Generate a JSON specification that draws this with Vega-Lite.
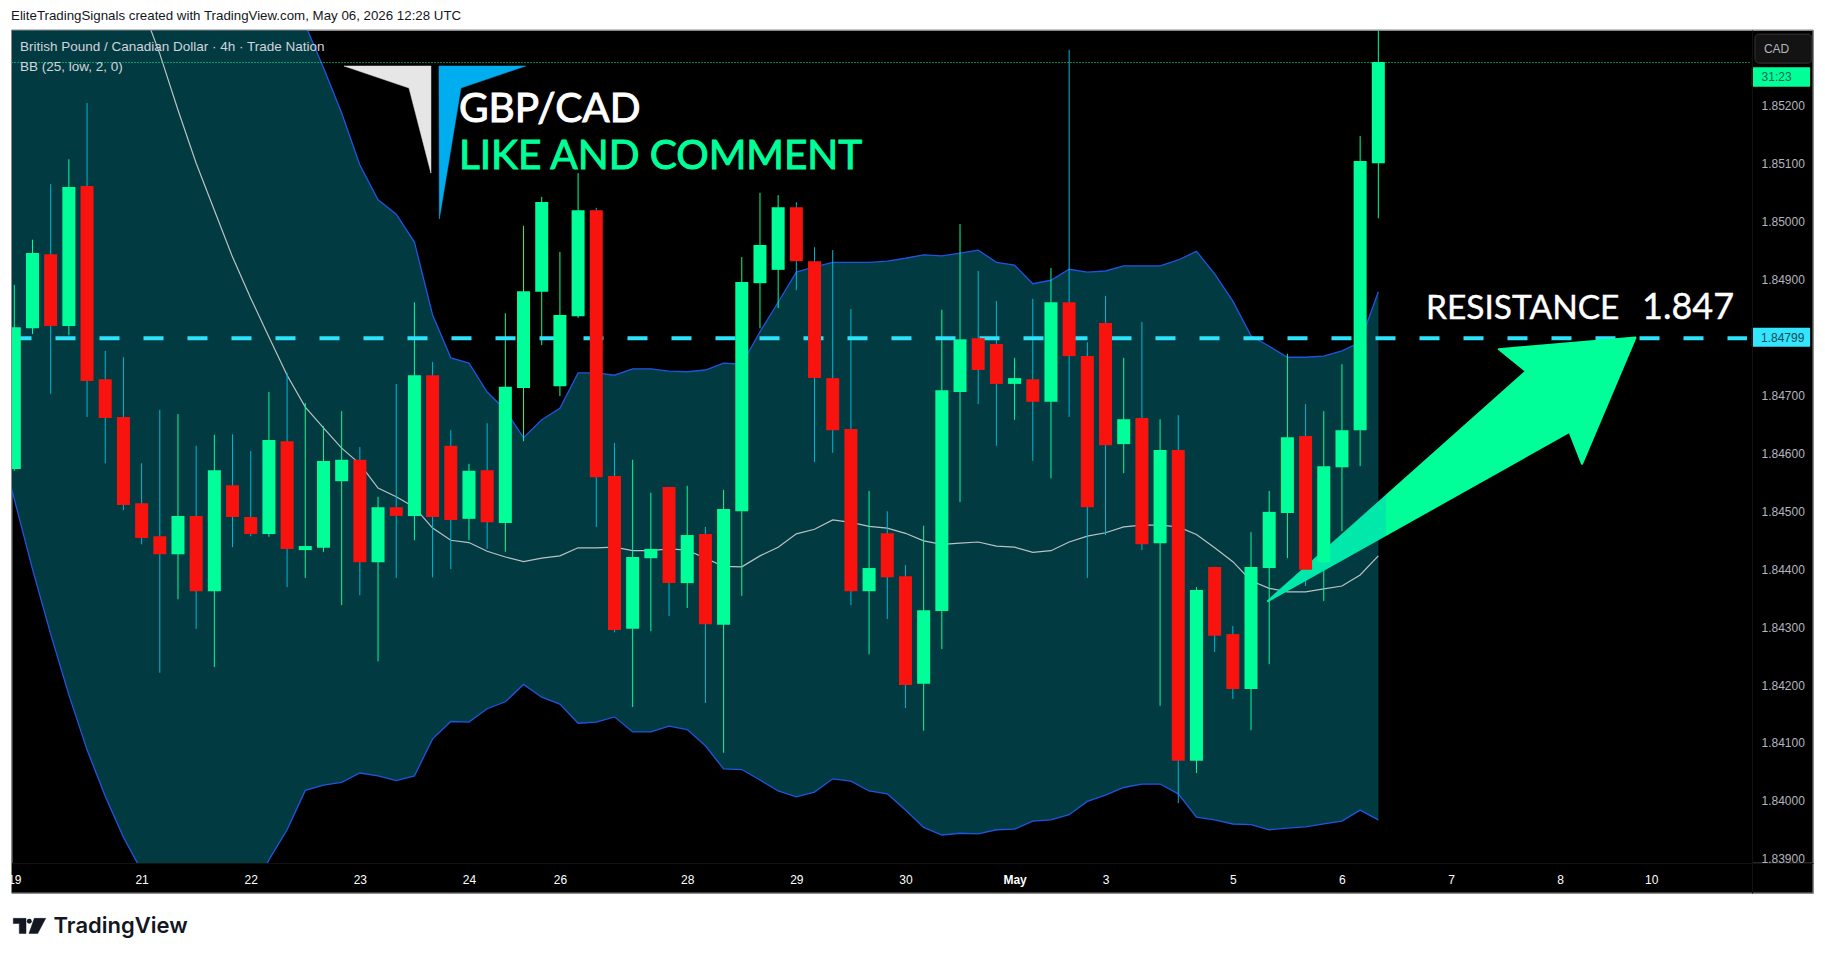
{
  "$schema": "https://vega.github.io/schema/vega-lite/v6.json",
  "width": 1801.5,
  "height": 863,
  "autosize": "none",
  "padding": {"left": 11.5, "top": 30, "right": 12, "bottom": 66},
  "background": "#ffffff",
  "view": {"fill": "#000000", "stroke": "#8a8a8a", "strokeWidth": 1},
  "config": {"font": "Liberation Sans"},
  "datasets": {
    "candles": [
      {"bar":0,"open":1.84573,"high":1.84891,"low":1.84570,"close":1.84818},
      {"bar":1,"open":1.84816,"high":1.84969,"low":1.84806,"close":1.84946},
      {"bar":2,"open":1.84944,"high":1.85065,"low":1.84703,"close":1.84820},
      {"bar":3,"open":1.84820,"high":1.85108,"low":1.84804,"close":1.85060},
      {"bar":4,"open":1.85062,"high":1.85205,"low":1.84663,"close":1.84725},
      {"bar":5,"open":1.84728,"high":1.84777,"low":1.84583,"close":1.84661},
      {"bar":6,"open":1.84663,"high":1.84766,"low":1.84502,"close":1.84511},
      {"bar":7,"open":1.84514,"high":1.84583,"low":1.84443,"close":1.84454},
      {"bar":8,"open":1.84457,"high":1.84675,"low":1.84221,"close":1.84426},
      {"bar":9,"open":1.84426,"high":1.84668,"low":1.84348,"close":1.84492},
      {"bar":10,"open":1.84492,"high":1.84613,"low":1.84297,"close":1.84362},
      {"bar":11,"open":1.84362,"high":1.84632,"low":1.84231,"close":1.84571},
      {"bar":12,"open":1.84545,"high":1.84633,"low":1.84438,"close":1.84490},
      {"bar":13,"open":1.84490,"high":1.84604,"low":1.84457,"close":1.84461},
      {"bar":14,"open":1.84461,"high":1.84706,"low":1.84456,"close":1.84623},
      {"bar":15,"open":1.84621,"high":1.84739,"low":1.84369,"close":1.84435},
      {"bar":16,"open":1.84433,"high":1.84687,"low":1.84385,"close":1.84440},
      {"bar":17,"open":1.84437,"high":1.84647,"low":1.84430,"close":1.84587},
      {"bar":18,"open":1.84552,"high":1.84673,"low":1.84338,"close":1.84589},
      {"bar":19,"open":1.84589,"high":1.84611,"low":1.84355,"close":1.84412},
      {"bar":20,"open":1.84412,"high":1.84525,"low":1.84241,"close":1.84507},
      {"bar":21,"open":1.84507,"high":1.84720,"low":1.84385,"close":1.84492},
      {"bar":22,"open":1.84492,"high":1.84861,"low":1.84450,"close":1.84735},
      {"bar":23,"open":1.84735,"high":1.84758,"low":1.84386,"close":1.84490},
      {"bar":24,"open":1.84613,"high":1.84640,"low":1.84400,"close":1.84485},
      {"bar":25,"open":1.84487,"high":1.84582,"low":1.84450,"close":1.84570},
      {"bar":26,"open":1.84571,"high":1.84652,"low":1.84435,"close":1.84481},
      {"bar":27,"open":1.84480,"high":1.84842,"low":1.84430,"close":1.84715},
      {"bar":28,"open":1.84713,"high":1.84993,"low":1.84621,"close":1.84880},
      {"bar":29,"open":1.84879,"high":1.85043,"low":1.84787,"close":1.85034},
      {"bar":30,"open":1.84716,"high":1.84948,"low":1.84699,"close":1.84839},
      {"bar":31,"open":1.84837,"high":1.85084,"low":1.84834,"close":1.85020},
      {"bar":32,"open":1.85020,"high":1.85024,"low":1.84473,"close":1.84559},
      {"bar":33,"open":1.84561,"high":1.84618,"low":1.84291,"close":1.84295},
      {"bar":34,"open":1.84297,"high":1.84589,"low":1.84162,"close":1.84421},
      {"bar":35,"open":1.84419,"high":1.84532,"low":1.84293,"close":1.84435},
      {"bar":36,"open":1.84542,"high":1.84542,"low":1.84319,"close":1.84376},
      {"bar":37,"open":1.84376,"high":1.84544,"low":1.84333,"close":1.84459},
      {"bar":38,"open":1.84461,"high":1.84473,"low":1.84169,"close":1.84305},
      {"bar":39,"open":1.84304,"high":1.84537,"low":1.84083,"close":1.84504},
      {"bar":40,"open":1.84500,"high":1.84939,"low":1.84354,"close":1.84896},
      {"bar":41,"open":1.84894,"high":1.85050,"low":1.84816,"close":1.84960},
      {"bar":42,"open":1.84917,"high":1.85046,"low":1.84851,"close":1.85025},
      {"bar":43,"open":1.85025,"high":1.85034,"low":1.84882,"close":1.84932},
      {"bar":44,"open":1.84932,"high":1.84956,"low":1.84585,"close":1.84730},
      {"bar":45,"open":1.84730,"high":1.84951,"low":1.84601,"close":1.84640},
      {"bar":46,"open":1.84642,"high":1.84849,"low":1.84338,"close":1.84362},
      {"bar":47,"open":1.84362,"high":1.84535,"low":1.84253,"close":1.84402},
      {"bar":48,"open":1.84462,"high":1.84500,"low":1.84314,"close":1.84386},
      {"bar":49,"open":1.84388,"high":1.84407,"low":1.84160,"close":1.84200},
      {"bar":50,"open":1.84202,"high":1.84475,"low":1.84121,"close":1.84329},
      {"bar":51,"open":1.84328,"high":1.84848,"low":1.84262,"close":1.84709},
      {"bar":52,"open":1.84706,"high":1.84996,"low":1.84516,"close":1.84797},
      {"bar":53,"open":1.84799,"high":1.84915,"low":1.84685,"close":1.84744},
      {"bar":54,"open":1.84789,"high":1.84863,"low":1.84613,"close":1.84720},
      {"bar":55,"open":1.84720,"high":1.84765,"low":1.84658,"close":1.84730},
      {"bar":56,"open":1.84728,"high":1.84867,"low":1.84587,"close":1.84689},
      {"bar":57,"open":1.84689,"high":1.84920,"low":1.84557,"close":1.84861},
      {"bar":58,"open":1.84861,"high":1.85297,"low":1.84663,"close":1.84768},
      {"bar":59,"open":1.84768,"high":1.84792,"low":1.84385,"close":1.84507},
      {"bar":60,"open":1.84825,"high":1.84872,"low":1.84459,"close":1.84614},
      {"bar":61,"open":1.84616,"high":1.84765,"low":1.84566,"close":1.84659},
      {"bar":62,"open":1.84661,"high":1.84827,"low":1.84433,"close":1.84443},
      {"bar":63,"open":1.84445,"high":1.84659,"low":1.84164,"close":1.84606},
      {"bar":64,"open":1.84606,"high":1.84666,"low":1.83996,"close":1.84069},
      {"bar":65,"open":1.84069,"high":1.84369,"low":1.84048,"close":1.84364},
      {"bar":66,"open":1.84404,"high":1.84404,"low":1.84257,"close":1.84285},
      {"bar":67,"open":1.84288,"high":1.84302,"low":1.84176,"close":1.84193},
      {"bar":68,"open":1.84193,"high":1.84464,"low":1.84122,"close":1.84404},
      {"bar":69,"open":1.84402,"high":1.84535,"low":1.84236,"close":1.84499},
      {"bar":70,"open":1.84497,"high":1.84772,"low":1.84419,"close":1.84628},
      {"bar":71,"open":1.84630,"high":1.84685,"low":1.84371,"close":1.84399},
      {"bar":72,"open":1.84412,"high":1.84673,"low":1.84345,"close":1.84578},
      {"bar":73,"open":1.84576,"high":1.84754,"low":1.84466,"close":1.84640},
      {"bar":74,"open":1.84640,"high":1.85148,"low":1.84578,"close":1.85105},
      {"bar":75,"open":1.85101,"high":1.85340,"low":1.85006,"close":1.85276}
    ],
    "bands": [
      {"bar":-1,"upper":1.87265,"basis":1.85953,"lower":1.84640},
      {"bar":0,"upper":1.87281,"basis":1.85901,"lower":1.84521},
      {"bar":1,"upper":1.87298,"basis":1.85849,"lower":1.84400},
      {"bar":2,"upper":1.87272,"basis":1.85780,"lower":1.84288},
      {"bar":3,"upper":1.87240,"basis":1.85711,"lower":1.84183},
      {"bar":4,"upper":1.87179,"basis":1.85633,"lower":1.84088},
      {"bar":5,"upper":1.87086,"basis":1.85547,"lower":1.84008},
      {"bar":6,"upper":1.86984,"basis":1.85461,"lower":1.83937},
      {"bar":7,"upper":1.86870,"basis":1.85374,"lower":1.83879},
      {"bar":8,"upper":1.86759,"basis":1.85290,"lower":1.83820},
      {"bar":9,"upper":1.86601,"basis":1.85193,"lower":1.83785},
      {"bar":10,"upper":1.86435,"basis":1.85101,"lower":1.83768},
      {"bar":11,"upper":1.86272,"basis":1.85020,"lower":1.83768},
      {"bar":12,"upper":1.86084,"basis":1.84939,"lower":1.83794},
      {"bar":13,"upper":1.85899,"basis":1.84868,"lower":1.83837},
      {"bar":14,"upper":1.85704,"basis":1.84801,"lower":1.83898},
      {"bar":15,"upper":1.85521,"basis":1.84735,"lower":1.83950},
      {"bar":16,"upper":1.85340,"basis":1.84680,"lower":1.84018},
      {"bar":17,"upper":1.85266,"basis":1.84644,"lower":1.84027},
      {"bar":18,"upper":1.85188,"basis":1.84609,"lower":1.84032},
      {"bar":19,"upper":1.85098,"basis":1.84582,"lower":1.84048},
      {"bar":20,"upper":1.85038,"basis":1.84540,"lower":1.84043},
      {"bar":21,"upper":1.85013,"basis":1.84525,"lower":1.84035},
      {"bar":22,"upper":1.84965,"basis":1.84507,"lower":1.84043},
      {"bar":23,"upper":1.84839,"basis":1.84471,"lower":1.84107},
      {"bar":24,"upper":1.84765,"basis":1.84450,"lower":1.84137},
      {"bar":25,"upper":1.84756,"basis":1.84446,"lower":1.84136},
      {"bar":26,"upper":1.84706,"basis":1.84431,"lower":1.84159},
      {"bar":27,"upper":1.84675,"basis":1.84421,"lower":1.84171},
      {"bar":28,"upper":1.84627,"basis":1.84413,"lower":1.84201},
      {"bar":29,"upper":1.84658,"basis":1.84419,"lower":1.84179},
      {"bar":30,"upper":1.84678,"basis":1.84423,"lower":1.84167},
      {"bar":31,"upper":1.84739,"basis":1.84437,"lower":1.84134},
      {"bar":32,"upper":1.84739,"basis":1.84437,"lower":1.84136},
      {"bar":33,"upper":1.84735,"basis":1.84438,"lower":1.84145},
      {"bar":34,"upper":1.84746,"basis":1.84432,"lower":1.84119},
      {"bar":35,"upper":1.84746,"basis":1.84432,"lower":1.84119},
      {"bar":36,"upper":1.84742,"basis":1.84435,"lower":1.84129},
      {"bar":37,"upper":1.84741,"basis":1.84433,"lower":1.84123},
      {"bar":38,"upper":1.84744,"basis":1.84419,"lower":1.84095},
      {"bar":39,"upper":1.84756,"basis":1.84405,"lower":1.84055},
      {"bar":40,"upper":1.84754,"basis":1.84404,"lower":1.84054},
      {"bar":41,"upper":1.84810,"basis":1.84423,"lower":1.84036},
      {"bar":42,"upper":1.84861,"basis":1.84438,"lower":1.84017},
      {"bar":43,"upper":1.84913,"basis":1.84461,"lower":1.84007},
      {"bar":44,"upper":1.84922,"basis":1.84469,"lower":1.84015},
      {"bar":45,"upper":1.84930,"basis":1.84485,"lower":1.84038},
      {"bar":46,"upper":1.84930,"basis":1.84481,"lower":1.84034},
      {"bar":47,"upper":1.84930,"basis":1.84474,"lower":1.84017},
      {"bar":48,"upper":1.84932,"basis":1.84471,"lower":1.84012},
      {"bar":49,"upper":1.84937,"basis":1.84462,"lower":1.83984},
      {"bar":50,"upper":1.84943,"basis":1.84449,"lower":1.83954},
      {"bar":51,"upper":1.84941,"basis":1.84443,"lower":1.83941},
      {"bar":52,"upper":1.84946,"basis":1.84445,"lower":1.83944},
      {"bar":53,"upper":1.84951,"basis":1.84447,"lower":1.83943},
      {"bar":54,"upper":1.84930,"basis":1.84440,"lower":1.83950},
      {"bar":55,"upper":1.84925,"basis":1.84438,"lower":1.83951},
      {"bar":56,"upper":1.84893,"basis":1.84429,"lower":1.83965},
      {"bar":57,"upper":1.84899,"basis":1.84432,"lower":1.83967},
      {"bar":58,"upper":1.84918,"basis":1.84447,"lower":1.83976},
      {"bar":59,"upper":1.84913,"basis":1.84457,"lower":1.83999},
      {"bar":60,"upper":1.84915,"basis":1.84463,"lower":1.84010},
      {"bar":61,"upper":1.84924,"basis":1.84473,"lower":1.84023},
      {"bar":62,"upper":1.84924,"basis":1.84476,"lower":1.84029},
      {"bar":63,"upper":1.84924,"basis":1.84476,"lower":1.84029},
      {"bar":64,"upper":1.84934,"basis":1.84473,"lower":1.84012},
      {"bar":65,"upper":1.84949,"basis":1.84460,"lower":1.83972},
      {"bar":66,"upper":1.84910,"basis":1.84437,"lower":1.83967},
      {"bar":67,"upper":1.84863,"basis":1.84413,"lower":1.83960},
      {"bar":68,"upper":1.84803,"basis":1.84380,"lower":1.83959},
      {"bar":69,"upper":1.84785,"basis":1.84367,"lower":1.83950},
      {"bar":70,"upper":1.84766,"basis":1.84361,"lower":1.83953},
      {"bar":71,"upper":1.84766,"basis":1.84361,"lower":1.83955},
      {"bar":72,"upper":1.84768,"basis":1.84366,"lower":1.83960},
      {"bar":73,"upper":1.84777,"basis":1.84371,"lower":1.83965},
      {"bar":74,"upper":1.84792,"basis":1.84390,"lower":1.83984},
      {"bar":75,"upper":1.84879,"basis":1.84423,"lower":1.83967}
    ],
    "shapes": [
      {"shape":"white","seq":1,"bar":18.13,"price":1.85269},
      {"shape":"white","seq":2,"bar":22.91,"price":1.85269},
      {"shape":"white","seq":3,"bar":22.91,"price":1.85084},
      {"shape":"white","seq":4,"bar":21.70,"price":1.85231},
      {"shape":"blue","seq":1,"bar":23.35,"price":1.85269},
      {"shape":"blue","seq":2,"bar":28.12,"price":1.85269},
      {"shape":"blue","seq":3,"bar":24.56,"price":1.85231},
      {"shape":"blue","seq":4,"bar":23.37,"price":1.85005},
      {"shape":"arrow","seq":1,"bar":68.93,"price":1.84345},
      {"shape":"arrow","seq":2,"bar":83.12,"price":1.84742},
      {"shape":"arrow","seq":3,"bar":81.63,"price":1.84780},
      {"shape":"arrow","seq":4,"bar":89.14,"price":1.84800},
      {"shape":"arrow","seq":5,"bar":86.20,"price":1.84582},
      {"shape":"arrow","seq":6,"bar":85.51,"price":1.84637},
      {"shape":"tv1","seq":1,"bar":-0.055,"price":1.83797},
      {"shape":"tv1","seq":2,"bar":0.643,"price":1.83797},
      {"shape":"tv1","seq":3,"bar":0.643,"price":1.83771},
      {"shape":"tv1","seq":4,"bar":0.275,"price":1.83771},
      {"shape":"tv1","seq":5,"bar":0.275,"price":1.83788},
      {"shape":"tv1","seq":6,"bar":-0.055,"price":1.83788},
      {"shape":"tv2","seq":1,"bar":1.10,"price":1.83797},
      {"shape":"tv2","seq":2,"bar":1.727,"price":1.83797},
      {"shape":"tv2","seq":3,"bar":1.287,"price":1.83771},
      {"shape":"tv2","seq":4,"bar":0.808,"price":1.83771}
    ]
  },
  "layer": [
    {
      "data": {"name": "bands"},
      "mark": {"type": "area", "color": "#023a42", "clip": true},
      "encoding": {
        "x": {
          "field": "bar", "type": "quantitative", "title": null,
          "scale": {"domain": [-0.154, 98.9], "nice": false, "zero": false},
          "axis": {
            "orient": "bottom", "offset": -30, "zindex": 1, "grid": false,
            "tickSize": 0, "ticks": false, "domainColor": "#121212",
            "values": [0, 7, 13, 19, 25, 30, 37, 43, 49, 55, 60, 67, 73, 79, 85, 90],
            "labelExpr": "{'0':'19','7':'21','13':'22','19':'23','25':'24','30':'26','37':'28','43':'29','49':'30','55':'May','60':'3','67':'5','73':'6','79':'7','85':'8','90':'10'}[datum.value]",
            "labelColor": "#ffffff", "labelFontSize": 12, "labelBaseline": "middle",
            "labelPadding": 16, "labelOverlap": false, "labelFlush": false, "labelBound": false,
            "labelFontWeight": {"condition": {"test": "datum.value == 55", "value": "bold"}, "value": "normal"}
          }
        },
        "y": {
          "field": "upper", "type": "quantitative", "title": null,
          "scale": {"domain": [1.838408, 1.853312], "nice": false, "zero": false},
          "axis": {
            "orient": "right", "offset": -61, "zindex": 1, "grid": false,
            "tickSize": 0, "ticks": false, "domainColor": "#121212",
            "values": [1.839, 1.84, 1.841, 1.842, 1.843, 1.844, 1.845, 1.846, 1.847, 1.849, 1.85, 1.851, 1.852],
            "format": ".5f", "labelColor": "#b2b5be", "labelFontSize": 12,
            "labelAlign": "left", "labelPadding": 9, "labelOverlap": false, "labelFlush": false, "labelBound": false
          }
        },
        "y2": {"field": "lower"}
      }
    },
    {
      "data": {"name": "bands"},
      "mark": {"type": "line", "color": "#1f55e0", "strokeWidth": 1.3, "clip": true},
      "encoding": {
        "x": {"field": "bar", "type": "quantitative", "title": null, "scale": {"domain": [-0.154, 98.9], "nice": false, "zero": false}},
        "y": {"field": "upper", "type": "quantitative", "title": null, "scale": {"domain": [1.838408, 1.853312], "nice": false, "zero": false}}
      }
    },
    {
      "data": {"name": "bands"},
      "mark": {"type": "line", "color": "#1f55e0", "strokeWidth": 1.3, "clip": true},
      "encoding": {
        "x": {"field": "bar", "type": "quantitative", "title": null, "scale": {"domain": [-0.154, 98.9], "nice": false, "zero": false}},
        "y": {"field": "lower", "type": "quantitative", "title": null, "scale": {"domain": [1.838408, 1.853312], "nice": false, "zero": false}}
      }
    },
    {
      "data": {"name": "bands"},
      "mark": {"type": "line", "color": "#b9c2c2", "strokeWidth": 1.2, "clip": true},
      "encoding": {
        "x": {"field": "bar", "type": "quantitative", "title": null, "scale": {"domain": [-0.154, 98.9], "nice": false, "zero": false}},
        "y": {"field": "basis", "type": "quantitative", "title": null, "scale": {"domain": [1.838408, 1.853312], "nice": false, "zero": false}}
      }
    },
    {
      "data": {"values": [{"bar": -0.154, "bar2": 98.9, "price": 1.83892, "price2": 1.838408}]},
      "mark": {"type": "rect", "color": "#000000"},
      "encoding": {
        "x": {"field": "bar", "type": "quantitative", "title": null, "scale": {"domain": [-0.154, 98.9], "nice": false, "zero": false}},
        "x2": {"field": "bar2"},
        "y": {"field": "price", "type": "quantitative", "title": null, "scale": {"domain": [1.838408, 1.853312], "nice": false, "zero": false}},
        "y2": {"field": "price2"}
      }
    },
    {
      "data": {"name": "candles"},
      "mark": {"type": "rule", "strokeWidth": 1, "clip": true},
      "encoding": {
        "x": {"field": "bar", "type": "quantitative", "title": null, "scale": {"domain": [-0.154, 98.9], "nice": false, "zero": false}},
        "y": {"field": "low", "type": "quantitative", "title": null, "scale": {"domain": [1.838408, 1.853312], "nice": false, "zero": false}},
        "y2": {"field": "high"},
        "color": {"condition": {"test": "datum.close < datum.open", "value": "#00b8d4"}, "value": "#00ff99"}
      }
    },
    {
      "data": {"values": [{"bar": -0.154, "bar2": 95.27, "price": 1.84799}]},
      "mark": {"type": "rule", "color": "#2ee2fa", "strokeWidth": 4, "strokeDash": [20, 24]},
      "encoding": {
        "x": {"field": "bar", "type": "quantitative", "title": null, "scale": {"domain": [-0.154, 98.9], "nice": false, "zero": false}},
        "x2": {"field": "bar2"},
        "y": {"field": "price", "type": "quantitative", "title": null, "scale": {"domain": [1.838408, 1.853312], "nice": false, "zero": false}}
      }
    },
    {
      "data": {"values": [{"bar": -0.154, "bar2": 95.45, "price": 1.85275}]},
      "mark": {"type": "rule", "color": "#00ff99", "strokeWidth": 1, "strokeDash": [1, 2]},
      "encoding": {
        "x": {"field": "bar", "type": "quantitative", "title": null, "scale": {"domain": [-0.154, 98.9], "nice": false, "zero": false}},
        "x2": {"field": "bar2"},
        "y": {"field": "price", "type": "quantitative", "title": null, "scale": {"domain": [1.838408, 1.853312], "nice": false, "zero": false}}
      }
    },
    {
      "data": {"name": "shapes"},
      "transform": [{"filter": "datum.shape == 'arrow'"}],
      "mark": {
        "type": "line", "interpolate": "linear-closed", "strokeWidth": 2, "strokeJoin": "round",
        "fill": {"gradient": "linear", "x1": 0, "y1": 0, "x2": 1, "y2": 0, "stops": [{"offset": 0, "color": "#00e8aa"}, {"offset": 0.32, "color": "#00e8aa"}, {"offset": 0.321, "color": "#00ff99"}, {"offset": 1, "color": "#00ff99"}]},
        "stroke": {"gradient": "linear", "x1": 0, "y1": 0, "x2": 1, "y2": 0, "stops": [{"offset": 0, "color": "#00e8aa"}, {"offset": 0.32, "color": "#00e8aa"}, {"offset": 0.321, "color": "#00ff99"}, {"offset": 1, "color": "#00ff99"}]}
      },
      "encoding": {
        "x": {"field": "bar", "type": "quantitative", "title": null, "scale": {"domain": [-0.154, 98.9], "nice": false, "zero": false}},
        "y": {"field": "price", "type": "quantitative", "title": null, "scale": {"domain": [1.838408, 1.853312], "nice": false, "zero": false}},
        "order": {"field": "seq"}
      }
    },
    {
      "data": {"name": "candles"},
      "mark": {"type": "rule", "strokeWidth": 13, "clip": true},
      "encoding": {
        "x": {"field": "bar", "type": "quantitative", "title": null, "scale": {"domain": [-0.154, 98.9], "nice": false, "zero": false}},
        "y": {"field": "open", "type": "quantitative", "title": null, "scale": {"domain": [1.838408, 1.853312], "nice": false, "zero": false}},
        "y2": {"field": "close"},
        "color": {"condition": {"test": "datum.close < datum.open", "value": "#f8130f"}, "value": "#00ff99"}
      }
    },
    {
      "data": {"values": [{"bar": -0.154, "bar2": 98.9, "price": 1.853312, "price2": 1.838408}]},
      "mark": {"type": "rect", "fill": null, "stroke": "#8a8a8a", "strokeWidth": 1},
      "encoding": {
        "x": {"field": "bar", "type": "quantitative", "title": null, "scale": {"domain": [-0.154, 98.9], "nice": false, "zero": false}},
        "x2": {"field": "bar2"},
        "y": {"field": "price", "type": "quantitative", "title": null, "scale": {"domain": [1.838408, 1.853312], "nice": false, "zero": false}},
        "y2": {"field": "price2"}
      }
    },
    {
      "data": {"name": "shapes"},
      "transform": [{"filter": "datum.shape == 'white'"}],
      "mark": {"type": "line", "interpolate": "linear-closed", "fill": "#e6e6e6", "stroke": "#e6e6e6", "strokeWidth": 0.5},
      "encoding": {
        "x": {"field": "bar", "type": "quantitative", "title": null, "scale": {"domain": [-0.154, 98.9], "nice": false, "zero": false}},
        "y": {"field": "price", "type": "quantitative", "title": null, "scale": {"domain": [1.838408, 1.853312], "nice": false, "zero": false}},
        "order": {"field": "seq"}
      }
    },
    {
      "data": {"name": "shapes"},
      "transform": [{"filter": "datum.shape == 'blue'"}],
      "mark": {"type": "line", "interpolate": "linear-closed", "fill": "#00aeef", "stroke": "#00aeef", "strokeWidth": 0.5},
      "encoding": {
        "x": {"field": "bar", "type": "quantitative", "title": null, "scale": {"domain": [-0.154, 98.9], "nice": false, "zero": false}},
        "y": {"field": "price", "type": "quantitative", "title": null, "scale": {"domain": [1.838408, 1.853312], "nice": false, "zero": false}},
        "order": {"field": "seq"}
      }
    },
    {
      "data": {"name": "shapes"},
      "transform": [{"filter": "datum.shape == 'tv1' || datum.shape == 'tv2'"}],
      "mark": {"type": "line", "interpolate": "linear-closed", "fill": "#131722", "stroke": "#131722", "strokeWidth": 0.5},
      "encoding": {
        "x": {"field": "bar", "type": "quantitative", "title": null, "scale": {"domain": [-0.154, 98.9], "nice": false, "zero": false}},
        "y": {"field": "price", "type": "quantitative", "title": null, "scale": {"domain": [1.838408, 1.853312], "nice": false, "zero": false}},
        "detail": {"field": "shape"},
        "order": {"field": "seq"}
      }
    },
    {
      "data": {"values": [{"bar": 0.825, "price": 1.83792}]},
      "mark": {"type": "point", "shape": "circle", "filled": true, "color": "#131722", "size": 24, "opacity": 1},
      "encoding": {
        "x": {"field": "bar", "type": "quantitative", "title": null, "scale": {"domain": [-0.154, 98.9], "nice": false, "zero": false}},
        "y": {"field": "price", "type": "quantitative", "title": null, "scale": {"domain": [1.838408, 1.853312], "nice": false, "zero": false}}
      }
    },
    {
      "data": {"values": [{"bar": 95.71, "bar2": 98.84, "price": 1.85324, "price2": 1.85274}]},
      "mark": {"type": "rect", "fill": "#131313", "stroke": "#363636", "strokeWidth": 1, "cornerRadius": 4},
      "encoding": {
        "x": {"field": "bar", "type": "quantitative", "title": null, "scale": {"domain": [-0.154, 98.9], "nice": false, "zero": false}},
        "x2": {"field": "bar2"},
        "y": {"field": "price", "type": "quantitative", "title": null, "scale": {"domain": [1.838408, 1.853312], "nice": false, "zero": false}},
        "y2": {"field": "price2"}
      }
    },
    {
      "data": {"values": [{"bar": 95.54, "bar2": 98.74, "price": 1.85267, "price2": 1.85233}]},
      "mark": {"type": "rect", "color": "#00ff99", "cornerRadius": 1},
      "encoding": {
        "x": {"field": "bar", "type": "quantitative", "title": null, "scale": {"domain": [-0.154, 98.9], "nice": false, "zero": false}},
        "x2": {"field": "bar2"},
        "y": {"field": "price", "type": "quantitative", "title": null, "scale": {"domain": [1.838408, 1.853312], "nice": false, "zero": false}},
        "y2": {"field": "price2"}
      }
    },
    {
      "data": {"values": [{"bar": 95.54, "bar2": 98.74, "price": 1.84817, "price2": 1.84784}]},
      "mark": {"type": "rect", "color": "#33e5ff", "cornerRadius": 1},
      "encoding": {
        "x": {"field": "bar", "type": "quantitative", "title": null, "scale": {"domain": [-0.154, 98.9], "nice": false, "zero": false}},
        "x2": {"field": "bar2"},
        "y": {"field": "price", "type": "quantitative", "title": null, "scale": {"domain": [1.838408, 1.853312], "nice": false, "zero": false}},
        "y2": {"field": "price2"}
      }
    },
    {
      "data": {"values": [{"bar": 95.54, "bar2": 98.88, "price": 1.83892}]},
      "mark": {"type": "rule", "color": "#ffffff", "strokeWidth": 1},
      "encoding": {
        "x": {"field": "bar", "type": "quantitative", "title": null, "scale": {"domain": [-0.154, 98.9], "nice": false, "zero": false}},
        "x2": {"field": "bar2"},
        "y": {"field": "price", "type": "quantitative", "title": null, "scale": {"domain": [1.838408, 1.853312], "nice": false, "zero": false}}
      }
    },
    {
      "data": {"values": [{"bar": 96.9, "price": 1.85299, "label": "CAD"}]},
      "mark": {"type": "text", "fontSize": 12, "baseline": "middle", "align": "center", "color": "#b2b5be"},
      "encoding": {
        "x": {"field": "bar", "type": "quantitative", "title": null, "scale": {"domain": [-0.154, 98.9], "nice": false, "zero": false}},
        "y": {"field": "price", "type": "quantitative", "title": null, "scale": {"domain": [1.838408, 1.853312], "nice": false, "zero": false}},
        "text": {"field": "label"}
      }
    },
    {
      "data": {"values": [{"bar": 96.9, "price": 1.8525, "label": "31:23"}]},
      "mark": {"type": "text", "fontSize": 12, "baseline": "middle", "align": "center", "color": "#1c6650"},
      "encoding": {
        "x": {"field": "bar", "type": "quantitative", "title": null, "scale": {"domain": [-0.154, 98.9], "nice": false, "zero": false}},
        "y": {"field": "price", "type": "quantitative", "title": null, "scale": {"domain": [1.838408, 1.853312], "nice": false, "zero": false}},
        "text": {"field": "label"}
      }
    },
    {
      "data": {"values": [{"bar": 96.04, "price": 1.84799, "label": "1.84799"}]},
      "mark": {"type": "text", "fontSize": 12, "baseline": "middle", "align": "left", "color": "#0c4a55"},
      "encoding": {
        "x": {"field": "bar", "type": "quantitative", "title": null, "scale": {"domain": [-0.154, 98.9], "nice": false, "zero": false}},
        "y": {"field": "price", "type": "quantitative", "title": null, "scale": {"domain": [1.838408, 1.853312], "nice": false, "zero": false}},
        "text": {"field": "label"}
      }
    },
    {
      "data": {"values": [{"bar": -0.18, "price": 1.85348, "label": "EliteTradingSignals created with TradingView.com, May 06, 2026 12:28 UTC"}]},
      "mark": {"type": "text", "fontSize": 13.3, "align": "left", "baseline": "alphabetic", "color": "#131722"},
      "encoding": {
        "x": {"field": "bar", "type": "quantitative", "title": null, "scale": {"domain": [-0.154, 98.9], "nice": false, "zero": false}},
        "y": {"field": "price", "type": "quantitative", "title": null, "scale": {"domain": [1.838408, 1.853312], "nice": false, "zero": false}},
        "text": {"field": "label"}
      }
    },
    {
      "data": {"values": [
        {"bar": 0.31, "price": 1.85295, "label": "British Pound / Canadian Dollar · 4h · Trade Nation"},
        {"bar": 0.31, "price": 1.85261, "label": "BB (25, low, 2, 0)"}
      ]},
      "mark": {"type": "text", "fontSize": 13.5, "align": "left", "baseline": "alphabetic", "color": "#d1d4dc"},
      "encoding": {
        "x": {"field": "bar", "type": "quantitative", "title": null, "scale": {"domain": [-0.154, 98.9], "nice": false, "zero": false}},
        "y": {"field": "price", "type": "quantitative", "title": null, "scale": {"domain": [1.838408, 1.853312], "nice": false, "zero": false}},
        "text": {"field": "label"}
      }
    },
    {
      "data": {"values": [{"bar": 24.45, "price": 1.85172, "label": "GBP/CAD"}]},
      "mark": {"type": "text", "font": "Lato", "fontSize": 40.5, "color": "#ffffff", "stroke": "#ffffff", "strokeWidth": 1, "align": "left", "baseline": "alphabetic"},
      "encoding": {
        "x": {"field": "bar", "type": "quantitative", "title": null, "scale": {"domain": [-0.154, 98.9], "nice": false, "zero": false}},
        "y": {"field": "price", "type": "quantitative", "title": null, "scale": {"domain": [1.838408, 1.853312], "nice": false, "zero": false}},
        "text": {"field": "label"}
      }
    },
    {
      "data": {"values": [{"bar": 24.45, "price": 1.85091, "label": "LIKE AND COMMENT"}]},
      "mark": {"type": "text", "font": "Lato", "fontSize": 40.5, "color": "#00ff99", "stroke": "#00ff99", "strokeWidth": 1, "align": "left", "baseline": "alphabetic"},
      "encoding": {
        "x": {"field": "bar", "type": "quantitative", "title": null, "scale": {"domain": [-0.154, 98.9], "nice": false, "zero": false}},
        "y": {"field": "price", "type": "quantitative", "title": null, "scale": {"domain": [1.838408, 1.853312], "nice": false, "zero": false}},
        "text": {"field": "label"}
      }
    },
    {
      "data": {"values": [{"bar": 77.62, "price": 1.84832, "label": "RESISTANCE"}]},
      "mark": {"type": "text", "font": "Lato", "fontSize": 33.5, "color": "#ffffff", "stroke": "#ffffff", "strokeWidth": 0.4, "align": "left", "baseline": "alphabetic"},
      "encoding": {
        "x": {"field": "bar", "type": "quantitative", "title": null, "scale": {"domain": [-0.154, 98.9], "nice": false, "zero": false}},
        "y": {"field": "price", "type": "quantitative", "title": null, "scale": {"domain": [1.838408, 1.853312], "nice": false, "zero": false}},
        "text": {"field": "label"}
      }
    },
    {
      "data": {"values": [{"bar": 89.5, "price": 1.84832, "label": "1.847"}]},
      "mark": {"type": "text", "font": "Lato", "fontSize": 36, "color": "#ffffff", "stroke": "#ffffff", "strokeWidth": 0.4, "align": "left", "baseline": "alphabetic"},
      "encoding": {
        "x": {"field": "bar", "type": "quantitative", "title": null, "scale": {"domain": [-0.154, 98.9], "nice": false, "zero": false}},
        "y": {"field": "price", "type": "quantitative", "title": null, "scale": {"domain": [1.838408, 1.853312], "nice": false, "zero": false}},
        "text": {"field": "label"}
      }
    },
    {
      "data": {"values": [{"bar": 2.16, "price": 1.83771, "label": "TradingView"}]},
      "mark": {"type": "text", "font": "Inter", "fontWeight": 600, "fontSize": 22, "align": "left", "baseline": "alphabetic", "color": "#131722"},
      "encoding": {
        "x": {"field": "bar", "type": "quantitative", "title": null, "scale": {"domain": [-0.154, 98.9], "nice": false, "zero": false}},
        "y": {"field": "price", "type": "quantitative", "title": null, "scale": {"domain": [1.838408, 1.853312], "nice": false, "zero": false}},
        "text": {"field": "label"}
      }
    }
  ]
}
